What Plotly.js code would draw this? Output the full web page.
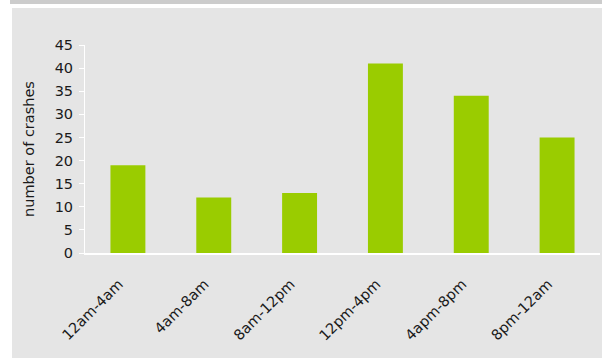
<!DOCTYPE html>
<html>
<head>
<meta charset="utf-8">
<script src="https://cdn.plot.ly/plotly-3.0.1.min.js"></script>
<style>
  html, body { margin: 0; padding: 0; background: #ffffff; width: 602px; height: 358px; overflow: hidden; }
  #band { position: absolute; left: 10px; top: 0; width: 592px; height: 4px; background: #cccccc; }
  #panel { position: absolute; left: 12px; top: 8px; width: 590px; height: 350px; background: #e5e5e5; }
  #chart { position: absolute; left: 0; top: 0; width: 602px; height: 358px; }
</style>
</head>
<body>
<div id="band"></div>
<div id="panel"></div>
<div id="chart"></div>
<script>
const categories = ["12am-4am", "4am-8am", "8am-12pm", "12pm-4pm", "4apm-8pm", "8pm-12am"];
const crashes = [19, 12, 13, 41, 34, 25];

const trace = {
  type: "bar",
  x: categories,
  y: crashes,
  marker: { color: "#9acc00" },
  hoverinfo: "x+y"
};

const layout = {
  width: 602,
  height: 358,
  margin: { l: 85, r: 2, t: 45, b: 105, pad: 0 },
  paper_bgcolor: "rgba(0,0,0,0)",
  plot_bgcolor: "rgba(0,0,0,0)",
  bargap: 0.593,
  showlegend: false,
  font: { family: "DejaVu Sans, Verdana, sans-serif", size: 14.5, color: "#1a1a1a" },
  xaxis: {
    type: "category",
    tickangle: -45,
    showgrid: false,
    zeroline: false,
    showline: true,
    linecolor: "#ffffff",
    linewidth: 2,
    ticks: "",
    ticklabelstandoff: 15,
    ticklabelshift: -9,
    tickfont: { size: 14.5, color: "#1a1a1a" },
    automargin: false
  },
  yaxis: {
    range: [0, 45],
    dtick: 5,
    tick0: 0,
    showgrid: false,
    zeroline: false,
    showline: true,
    linecolor: "#ffffff",
    linewidth: 1,
    ticks: "outside",
    ticklen: 5,
    tickwidth: 1,
    tickcolor: "#ffffff",
    ticklabelstandoff: 3,
    tickfont: { size: 14.5, color: "#1a1a1a" },
    automargin: false,
    title: { text: "number of crashes", font: { size: 14.5, color: "#1a1a1a" }, standoff: 16 }
  }
};

Plotly.newPlot("chart", [trace], layout, { displayModeBar: false, staticPlot: true });
</script>
</body>
</html>
